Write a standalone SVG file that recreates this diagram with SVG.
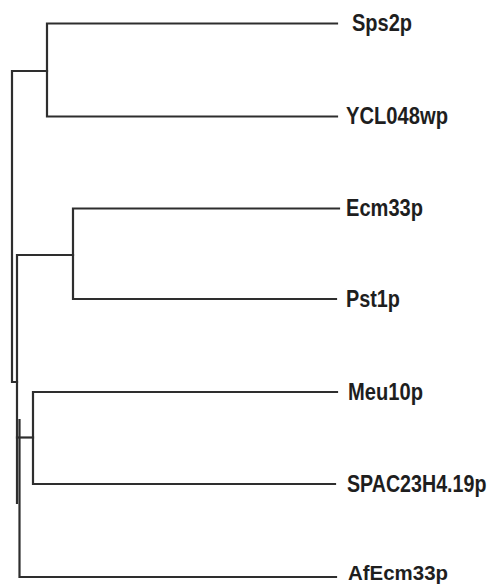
<svg xmlns="http://www.w3.org/2000/svg" width="493" height="585" viewBox="0 0 493 585">
<style>
  .br { fill: none; stroke: #2e2e2e; stroke-width: 2.2; stroke-linecap: square; stroke-linejoin: miter; }
  .lab { font-family: "Liberation Sans", Arial, sans-serif; font-weight: bold; font-size: 23px; fill: #1e1e1e; }
</style>
<rect width="493" height="585" fill="#ffffff"/>
<g id="connectors">
  <path class="br" d="M337,23.5 H47 V116.5 H337"/>
  <path class="br" d="M47,71 H12 V382 H17"/>
  <path class="br" d="M339,208.5 H73 V299 H336"/>
  <path class="br" d="M73,255 H17 V503"/>
  <path class="br" d="M337,392 H33 V484 H335"/>
  <path class="br" d="M33,437.5 H17"/>
  <path class="br" d="M19.5,420 V577 H336"/>
</g>
<g id="node-Sps2p"><text class="lab" transform="translate(352,31) scale(0.87,1)">Sps2p</text></g>
<g id="node-YCL048wp"><text class="lab" transform="translate(346,124) scale(0.877,1)">YCL048wp</text></g>
<g id="node-Ecm33p"><text class="lab" transform="translate(346,216) scale(0.873,1)">Ecm33p</text></g>
<g id="node-Pst1p"><text class="lab" transform="translate(346,307) scale(0.862,1)">Pst1p</text></g>
<g id="node-Meu10p"><text class="lab" transform="translate(348,400) scale(0.876,1)">Meu10p</text></g>
<g id="node-SPAC23H4.19p"><text class="lab" transform="translate(347,492) scale(0.855,1)">SPAC23H4.19p</text></g>
<g id="node-AfEcm33p"><text class="lab" style="font-size:21px" transform="translate(348,580) scale(0.974,1)">AfEcm33p</text></g>
</svg>
